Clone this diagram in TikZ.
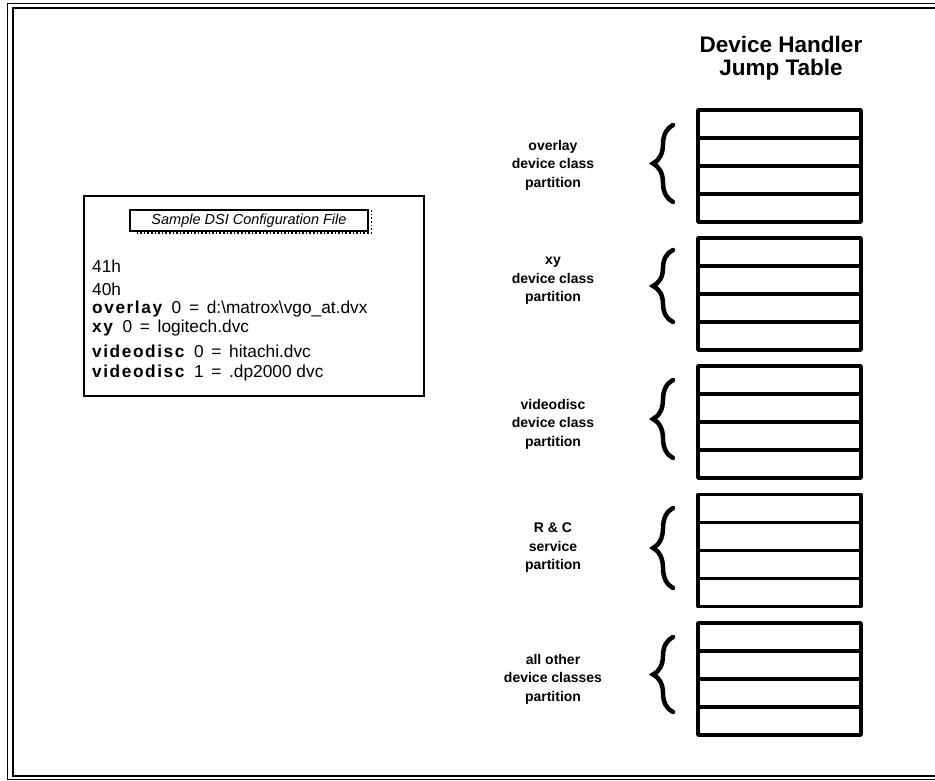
\documentclass[tikz,border=0pt]{standalone}
\usepackage{fontspec}
\setmainfont{Liberation Sans}
\newfontfamily\kwfont[LetterSpace=9]{Liberation Sans}
\usetikzlibrary{decorations.pathreplacing}
\tikzset{
  frameline/.style={line width=1pt},
  frameinner/.style={line width=2pt},
  tblbox/.style={line width=3.8pt, line join=round},
  tblrow/.style={line width=3.2pt},
  curly/.style={line width=4.5pt, line cap=round, decorate,
     decoration={brace, amplitude=20pt, aspect=0.5}},
  partlabel/.style={align=center, font=\bfseries\fontsize{14}{18.5}\selectfont},
  cfgline/.style={anchor=base west, inner sep=0pt, font=\fontsize{17.3}{19}\selectfont},
  headline/.style={anchor=base, inner sep=0pt, font=\bfseries\fontsize{22.5}{23}\selectfont},
}
\newcommand{\kw}[1]{{\kwfont\bfseries #1}}
\begin{document}
\begin{tikzpicture}[x=1pt,y=-1pt]
\useasboundingbox (0,0) rectangle (935,780);
\begin{scope}
\clip (0,0) rectangle (935,780);
% outer double frame
\draw[frameline] (7,3) rectangle (945,779);
\draw[frameinner] (13,8) rectangle (945,775.5);
\end{scope}

% title
\node[headline] (title1) at (781,52) {Device Handler};
\node[headline] (title2) at (781,75) {Jump Table};

% configuration file box
\draw[line width=2pt] (84,196) rectangle (424,396);
\node[draw, line width=1.6pt, minimum width=238pt, minimum height=21pt, inner sep=0pt,
      font=\itshape\fontsize{14.5}{15}\selectfont] (cfgtitle) at (249,220.5) {Sample DSI Configuration File};
\draw[line width=1.6pt, dotted] (cfgtitle.north east) ++(2.5,1) -- ++(0,22.5) -- ++(-236,0);

\node[cfgline] (l41) at (92,272) {41h};
\node[cfgline] (l40) at (92,295.5) {40h};
\node[cfgline] (lov) at (92,313) {\kw{overlay}\ \ 0 \,=\, d:\textbackslash matrox\textbackslash vgo\_at.dvx};
\node[cfgline] (lxy) at (92,332.5) {\kw{xy}\ \ 0 \,=\, logitech.dvc};
\node[cfgline] (lv0) at (92,357) {\kw{videodisc}\ \ 0 \,=\, hitachi.dvc};
\node[cfgline] (lv1) at (92,377) {\kw{videodisc}\ \ 1 \,=\, .dp2000 dvc};

% jump table partitions
\foreach \i/\t/\bt/\bb in {1/110/125/202, 2/238/250/322, 3/366/380/458, 4/494.5/508/588, 5/623/637/712}{
  \draw[tblbox] (698,\t) rectangle (861,\t+112);
  \foreach \k in {1,2,3}{
    \draw[tblrow] (698,\t+28*\k) -- (861,\t+28*\k);
  }
  \draw[curly] (673,\bb) -- (673,\bt);
}

\node[partlabel] (p1) at (553,165) {overlay\\device class\\partition};
\node[partlabel] (p2) at (553,281) {xy\\device class\\partition};
\node[partlabel] (p3) at (553,424) {videodisc\\device class\\partition};
\node[partlabel] (p4) at (553,548) {R \& C\\service\\partition};
\node[partlabel] (p5) at (553,679) {all other\\device classes\\partition};
\end{tikzpicture}
\end{document}
